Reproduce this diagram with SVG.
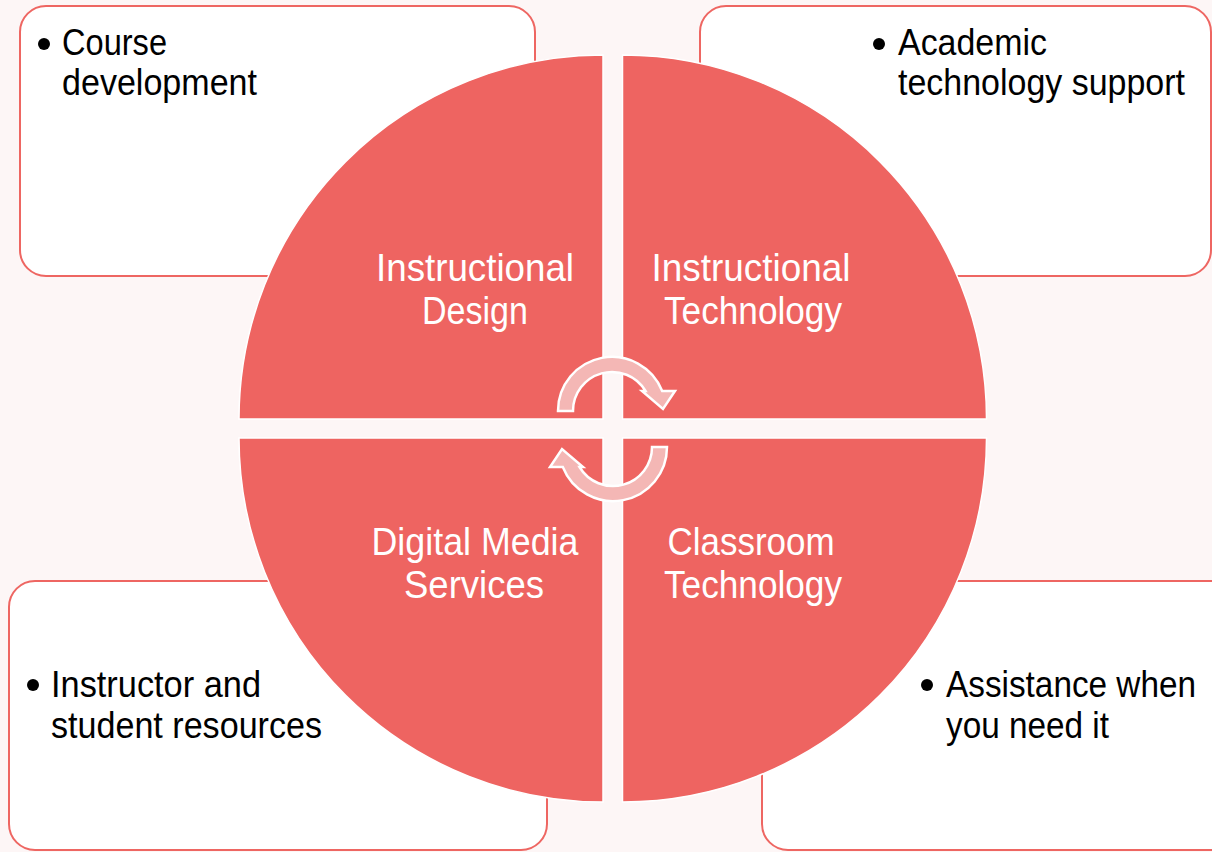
<svg xmlns="http://www.w3.org/2000/svg" width="1212" height="852" viewBox="0 0 1212 852">
  <style>
    .box { fill: #FFFFFF; stroke: #EE6662; stroke-width: 2; }
    .quad { fill: #EE6461; stroke: #FFFFFF; stroke-width: 1.5; }
    .arrow { fill: #F4B7B5; stroke: #FFFFFF; stroke-width: 2.5; stroke-linejoin: miter; }
    .bt { font-family: "Liberation Sans Narrow", "Liberation Sans", Arial, sans-serif; font-size: 37px; fill: #000000; }
    .qt { font-family: "Liberation Sans Narrow", "Liberation Sans", Arial, sans-serif; font-size: 39px; fill: #FFFFFF; text-anchor: middle; }
    .bullet { fill: #000000; }
  </style>
  <rect x="0" y="0" width="1212" height="852" fill="#FDF6F6"/>

  <g id="box-course">
    <rect class="box" x="20" y="6" width="515" height="270" rx="26" ry="26"/>
    <circle class="bullet" cx="44" cy="44" r="6"/>
    <text class="bt" x="62" y="55" textLength="105" lengthAdjust="spacingAndGlyphs">Course</text>
    <text class="bt" x="62" y="95" textLength="195" lengthAdjust="spacingAndGlyphs">development</text>
  </g>

  <g id="box-academic">
    <rect class="box" x="700" y="6" width="511" height="270" rx="26" ry="26"/>
    <circle class="bullet" cx="879" cy="44" r="6"/>
    <text class="bt" x="898" y="55" textLength="149" lengthAdjust="spacingAndGlyphs">Academic</text>
    <text class="bt" x="898" y="95" textLength="287" lengthAdjust="spacingAndGlyphs">technology support</text>
  </g>

  <g id="box-resources">
    <rect class="box" x="9" y="581" width="538" height="269" rx="26" ry="26"/>
    <circle class="bullet" cx="33" cy="685" r="6"/>
    <text class="bt" x="51" y="697" textLength="210" lengthAdjust="spacingAndGlyphs">Instructor and</text>
    <text class="bt" x="51" y="738" textLength="271" lengthAdjust="spacingAndGlyphs">student resources</text>
  </g>

  <g id="box-assistance">
    <rect class="box" x="762" y="581" width="476" height="269" rx="26" ry="26"/>
    <circle class="bullet" cx="927" cy="685" r="6"/>
    <text class="bt" x="946" y="697" textLength="250" lengthAdjust="spacingAndGlyphs">Assistance when</text>
    <text class="bt" x="946" y="738" textLength="163" lengthAdjust="spacingAndGlyphs">you need it</text>
  </g>

  <g id="quad-instructional-design">
    <path class="quad" d="M603,419 L239,419 A364,364 0 0 1 603,55 Z"/>
    <text class="qt" x="475" y="281" textLength="198" lengthAdjust="spacingAndGlyphs">Instructional</text>
    <text class="qt" x="475" y="324" textLength="106" lengthAdjust="spacingAndGlyphs">Design</text>
  </g>

  <g id="quad-instructional-technology">
    <path class="quad" d="M622.5,419 L622.5,55 A364,364 0 0 1 986.5,419 Z"/>
    <text class="qt" x="751" y="281" textLength="199" lengthAdjust="spacingAndGlyphs">Instructional</text>
    <text class="qt" x="753" y="324" textLength="178" lengthAdjust="spacingAndGlyphs">Technology</text>
  </g>

  <g id="quad-digital-media">
    <path class="quad" d="M603,438 L603,802 A364,364 0 0 1 239,438 Z"/>
    <text class="qt" x="475" y="555" textLength="207" lengthAdjust="spacingAndGlyphs">Digital Media</text>
    <text class="qt" x="474" y="598" textLength="140" lengthAdjust="spacingAndGlyphs">Services</text>
  </g>

  <g id="quad-classroom-technology">
    <path class="quad" d="M622.5,438 L986.5,438 A364,364 0 0 1 622.5,802 Z"/>
    <text class="qt" x="751" y="555" textLength="167" lengthAdjust="spacingAndGlyphs">Classroom</text>
    <text class="qt" x="753" y="598" textLength="178" lengthAdjust="spacingAndGlyphs">Technology</text>
  </g>

  <g id="connectors">
    <path id="arrow-top" class="arrow" d="M558,411 A54,54 0 0 1 662.2,391 L675,391 L663,409 L642,391 L645.5,391 A39,39 0 0 0 573,411 Z"/>
    <path id="arrow-bottom" class="arrow" transform="rotate(180 612.5 429)" d="M558,411 A54,54 0 0 1 662.2,391 L675,391 L663,409 L642,391 L645.5,391 A39,39 0 0 0 573,411 Z"/>
  </g>
</svg>
